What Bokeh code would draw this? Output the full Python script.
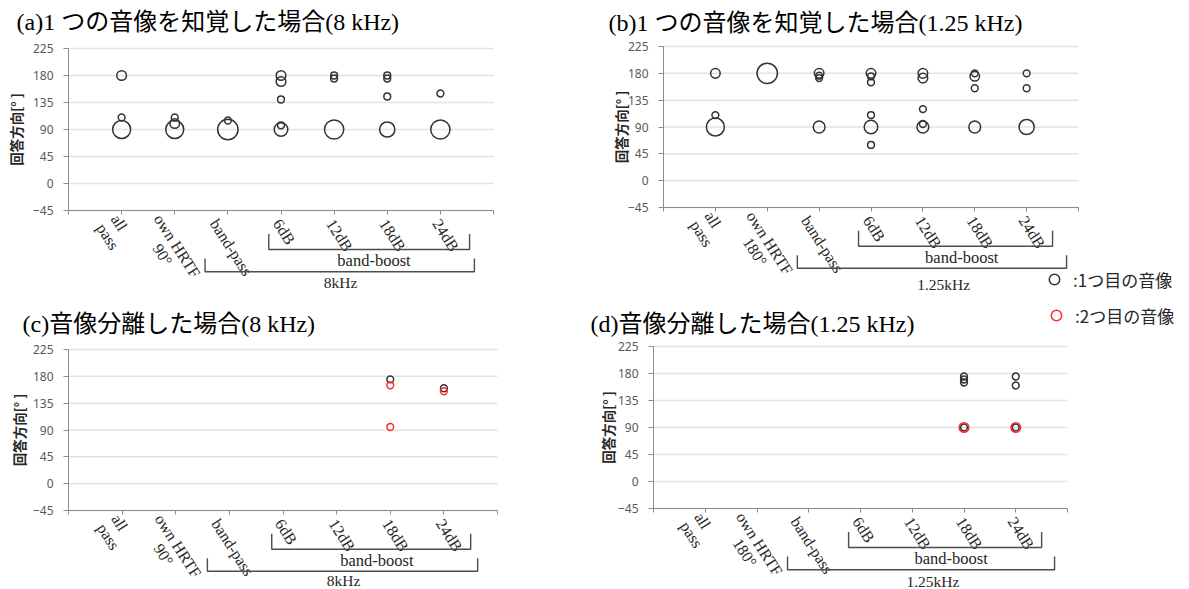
import numpy as np
from bokeh.plotting import figure
from bokeh.models import (ColumnDataSource, Range1d, FixedTicker, Label, PolyAnnotation,
                          Legend, LegendItem, LinearAxis)
from bokeh.layouts import row, column
from bokeh.embed import file_html
from bokeh.resources import INLINE

# ---------------- data ----------------
NB = "\u00a0"
tick_labels_8k = ["all\npass", "own HRTF\n" + NB * 6 + "90°", "band-pass", "6dB", "12dB", "18dB", "24dB"]
tick_labels_125k = ["all\npass", "own HRTF\n" + NB * 5 + "180°", "band-pass", "6dB", "12dB", "18dB", "24dB"]
y_ticks = [-45, 0, 45, 90, 135, 180, 225]
y_title = "回答方向[° ]"

# (a) one image perceived, 8 kHz : category index (1..7), answered direction, count
a_cat = [1, 1, 1, 2, 2, 2, 3, 3, 4, 4, 4, 4, 4, 5, 5, 5, 6, 6, 6, 6, 7, 7]
a_deg = [180, 110, 90, 110, 100, 90, 105, 90, 180, 170, 140, 97, 90, 180, 175, 90, 180, 175, 145, 90, 150, 90]
a_n = [2, 1, 7, 1, 2, 7, 1, 9, 2, 2, 1, 1, 4, 1, 1, 8, 1, 1, 1, 5, 1, 8]

# (b) one image perceived, 1.25 kHz
b_cat = [1, 1, 1, 2, 3, 3, 3, 3, 4, 4, 4, 4, 4, 4, 5, 5, 5, 5, 5, 6, 6, 6, 6, 7, 7, 7]
b_deg = [180, 110, 90, 180, 180, 176, 172, 90, 180, 175, 165, 110, 90, 60, 180, 172, 120, 95, 90, 180, 175, 155, 90, 180, 155, 90]
b_n = [2, 1, 7, 9, 2, 1, 1, 3, 2, 1, 1, 1, 4, 1, 2, 2, 1, 1, 3, 1, 2, 1, 3, 1, 1, 5]

# (c) image separated, 8 kHz : first image (black) / second image (red)
c1_cat = [6, 7]
c1_deg = [175, 160]
c1_n = [1, 1]
c2_cat = [6, 6, 7]
c2_deg = [165, 95, 155]
c2_n = [1, 1, 1]

# (d) image separated, 1.25 kHz
d1_cat = [6, 6, 6, 6, 7, 7, 7]
d1_deg = [175, 170, 165, 90, 175, 160, 90]
d1_n = [1, 1, 1, 1, 1, 1, 1]
d2_cat = [6, 7]
d2_deg = [90, 90]
d2_n = [2, 2]

legend_labels = [":1つ目の音像", ":2つ目の音像"]

# ---------------- styling ----------------
BLACK = "#333333"
RED = "#ff2b2b"
AXIS = "#8c8c8c"
GRID = "#e3e3e3"
SERIF = "Liberation Serif, Noto Sans CJK JP"
SANS = "Noto Sans, Noto Sans CJK JP"
LABEL_SHIFT_PX = [-14, -24, -14, -4, -4, -4, -4]   # centre the rotated labels under their ticks


def bubble_source(cat, deg, n):
    return ColumnDataSource(dict(x=cat, y=deg, n=n,
                                 size=[6.8 * np.sqrt(v) for v in n]))


def make_panel(title, tick_labels, freq_text, freq_x, freq_y, black, red, g):
    # g: canvas box (cx0, cx1, cy0, cy1) in page px, top border mt, and the page px of the
    # 0..8 x -45..225 plotting area (X0, Y0, pw, ph).  The frame fills the rest of the
    # canvas so the brackets / legend below and beside the plotting area stay visible.
    W = g["cx1"] - g["cx0"]
    H = g["cy1"] - g["cy0"]
    kx = 8.0 / g["pw"]
    ky = 270.0 / g["ph"]
    fy0 = g["cy0"] + g["mt"]
    xr = Range1d((g["cx0"] - g["X0"]) * kx, (g["cx1"] - g["X0"]) * kx)
    yr = Range1d(225 - (g["cy1"] - g["Y0"]) * ky, 225 + (g["Y0"] - fy0) * ky)

    p = figure(width=W, height=H, output_backend="svg", toolbar_location=None,
               x_range=xr, y_range=yr,
               min_border_left=0, min_border_right=0, min_border_top=g["mt"], min_border_bottom=0,
               title=title if g["mt"] > 0 else None,
               background_fill_color="white", border_fill_color="white")
    p.outline_line_color = None
    if g["mt"] > 0:
        p.title.align = "left"
        p.title.offset = g["tx"] - g["cx0"]
        p.title.standoff = g["tst"]
        p.title.text_font = SERIF
        p.title.text_font_size = "24px"
        p.title.text_font_style = "normal"
        p.title.text_color = "black"
    else:
        p.add_layout(Label(x=(g["tx"] - g["X0"]) * kx, y=225 + (g["Y0"] - g["ty"]) * ky, text=title,
                           text_align="left", text_baseline="middle", text_font=SERIF,
                           text_font_size="24px", text_color="black"))

    # x axis (line + tick marks) at y = -45
    xa = p.xaxis[0]
    xa.fixed_location = -45
    xa.bounds = (0, 8)
    xa.ticker = FixedTicker(ticks=list(range(0, 9)))
    xa.major_label_text_color = None
    xa.axis_line_color = AXIS
    xa.major_tick_line_color = AXIS
    xa.major_tick_out = 4
    xa.major_tick_in = 0
    xa.minor_tick_line_color = None

    # category labels (rotated), slightly shifted so each block is centred under its tick
    pos = [round(i + 1 + s * kx, 4) for i, s in enumerate(LABEL_SHIFT_PX)]
    la = LinearAxis(fixed_location=-45, ticker=FixedTicker(ticks=pos),
                    major_label_overrides={q: lab for q, lab in zip(pos, tick_labels)},
                    major_label_orientation=-1.0, major_label_text_font=SERIF,
                    major_label_text_font_size="16px", major_label_text_color="#262626",
                    major_label_text_line_height=1.0, major_label_standoff=6,
                    axis_line_color=None, major_tick_line_color=None, minor_tick_line_color=None,
                    major_tick_out=4, major_tick_in=0)
    p.add_layout(la, "below")

    ya = p.yaxis[0]
    ya.fixed_location = 0
    ya.bounds = (-45, 225)
    ya.ticker = FixedTicker(ticks=y_ticks)
    ya.major_label_text_font = SANS
    ya.major_label_text_font_size = "12px"
    ya.major_label_text_color = "#595959"
    ya.axis_line_color = AXIS
    ya.major_tick_line_color = AXIS
    ya.major_tick_out = 5
    ya.major_tick_in = 0
    ya.major_label_standoff = 10
    ya.minor_tick_line_color = None
    p.add_layout(Label(x=(g["yl"] - g["X0"]) * kx, y=90, text=y_title, angle=90, angle_units="deg",
                       text_align="center", text_baseline="middle", text_font="Noto Sans CJK JP",
                       text_font_size="13.5px", text_font_style="bold", text_color="#262626"))

    # horizontal grid lines over the plotting area only
    p.xgrid.grid_line_color = None
    p.ygrid.grid_line_color = None
    p.segment(x0=[0] * len(y_ticks), y0=y_ticks, x1=[8] * len(y_ticks), y1=y_ticks,
              line_color=GRID, line_width=1.5, level="underlay")

    rend = {}
    if black is not None:
        rend["black"] = p.scatter("x", "y", size="size", source=bubble_source(*black),
                                  marker="circle", fill_color=None, line_color=BLACK, line_width=1.5)
    if red is not None:
        rend["red"] = p.scatter("x", "y", size="size", source=bubble_source(*red),
                                marker="circle", fill_color=None, line_color=RED, line_width=1.5)

    # group brackets below the axis
    def bracket(x0, x1, yt, yb):
        p.add_layout(PolyAnnotation(xs=[x0, x0, x1, x1, x1, x0, x0], ys=[yt, yb, yb, yt, yb, yb, yt],
                                    xs_units="data", ys_units="data", fill_alpha=0,
                                    line_color="#4d4d4d", line_alpha=1.0, line_width=1.4))

    bracket(g["bb"][0], g["bb"][1], -84, -110)
    bracket(g["fb"][0], g["fb"][1], -125, -147)
    p.add_layout(Label(x=5.75, y=-129, text="band-boost", text_align="center", text_baseline="middle",
                       text_font=SERIF, text_font_size="16.5px", text_color="#262626"))
    p.add_layout(Label(x=freq_x, y=freq_y, text=freq_text, text_align="center", text_baseline="middle",
                       text_font=SERIF, text_font_size="15.5px", text_color="#262626"))
    return p, rend


pa, ra = make_panel("(a)1 つの音像を知覚した場合(8 kHz)", tick_labels_8k, "8kHz", 5.12, -165,
                    (a_cat, a_deg, a_n), None,
                    dict(cx0=0, cx1=580, cy0=0, cy1=290, mt=40, X0=68, Y0=48, pw=425, ph=162,
                         tx=16, tst=12, yl=15, bb=(3.77, 7.55), fb=(2.57, 7.64)))
pc, rc = make_panel("(c)音像分離した場合(8 kHz)", tick_labels_8k, "8kHz", 5.13, -162,
                    (c1_cat, c1_deg, c1_n), (c2_cat, c2_deg, c2_n),
                    dict(cx0=0, cx1=580, cy0=290, cy1=589, mt=52, X0=68, Y0=349, pw=429, ph=161,
                         tx=22, tst=12, yl=18, bb=(3.79, 7.5), fb=(2.59, 7.63)))
pb, rb = make_panel("(b)1 つの音像を知覚した場合(1.25 kHz)", tick_labels_125k, "1.25kHz", 5.4, -174,
                    (b_cat, b_deg, b_n), None,
                    dict(cx0=580, cx1=1189, cy0=0, cy1=298, mt=38, X0=663, Y0=46, pw=415, ph=161,
                         tx=608, tst=5, yl=620, bb=(3.76, 7.5), fb=(2.58, 7.77)))
pd_, rd = make_panel("(d)音像分離した場合(1.25 kHz)", tick_labels_125k, "1.25kHz", 5.4, -166,
                     (d1_cat, d1_deg, d1_n), (d2_cat, d2_deg, d2_n),
                     dict(cx0=580, cx1=1189, cy0=298, cy1=589, mt=0, X0=653, Y0=346, pw=414, ph=162,
                          tx=590, ty=323, yl=607, bb=(3.77, 7.5), fb=(2.59, 7.75)))


def add_legend(p, label, renderer, loc):
    lg = Legend(items=[LegendItem(label=label, renderers=[renderer])], location=loc,
                padding=0, margin=0, spacing=0, border_line_color=None, background_fill_alpha=0,
                glyph_width=26, glyph_height=26, label_standoff=6,
                label_text_font="Noto Sans CJK JP", label_text_font_size="17px",
                label_text_color="#262626")
    p.add_layout(lg)


add_legend(pb, legend_labels[0], rb["black"], (461, 6))
add_legend(pd_, legend_labels[1], rd["red"], (463, 261))

layout = row(column(pa, pc), column(pb, pd_))
open("out.html", "w").write(file_html(layout, INLINE))
